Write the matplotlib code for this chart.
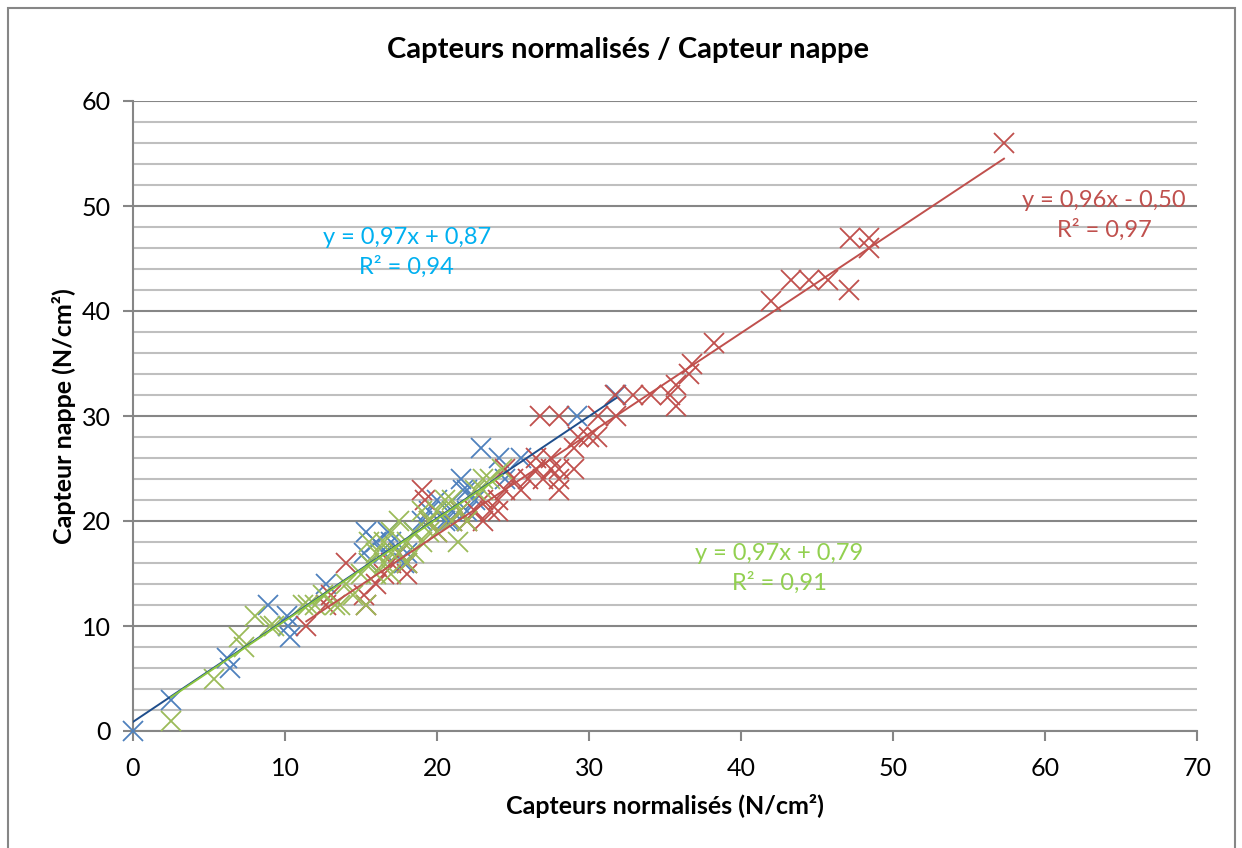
import numpy as np
import matplotlib
matplotlib.use("Agg")
import matplotlib.pyplot as plt
from matplotlib.patches import Rectangle

plt.rcParams['font.family'] = ['Lato', 'DejaVu Sans']

# ---- data ----
blue_x = [0.0, 2.5, 6.2, 6.4, 8.9, 10.1, 10.2, 10.3, 12.7, 15.3, 15.2, 15.5,
          16.0, 16.5, 16.8, 17.0, 17.5, 17.8, 18.0, 18.5, 19.0, 19.5, 20.0,
          20.5, 20.8, 21.0, 21.6, 21.7, 22.0, 22.0, 22.5, 22.9, 24.1, 24.5,
          25.5, 29.2, 31.8]
blue_y = [0, 3, 7, 6, 12, 11, 10, 9, 14, 19, 17, 16,
          18, 17, 19, 18, 17, 16, 17, 19, 20, 21, 22,
          20, 20, 21, 24, 23, 23, 21, 22, 27, 26, 24,
          26, 30, 32]

red_x = [11.4, 12.7, 13.0, 14.0, 15.2, 15.3, 16.0, 16.5, 17.0, 17.5, 18.0, 18.0,
         19.0, 19.2, 19.5, 20.0, 21.0, 21.5, 22.0, 22.5, 23.0, 23.0, 23.5, 24.0,
         24.0, 24.5, 24.5, 25.0, 25.5, 26.0, 26.5, 26.5, 27.0, 27.5, 27.5, 28.0,
         28.0, 28.0, 29.0, 29.0, 29.3, 30.0, 30.5, 26.8, 28.0, 30.6, 31.8, 31.7,
         32.9, 34.1, 35.3, 35.7, 35.7, 36.6, 36.8, 38.2, 42.0, 43.3, 44.5, 45.7,
         47.1, 47.2, 48.4, 48.4, 57.3]
red_y = [10, 12, 13, 16, 13, 12, 14, 15, 16, 17, 15, 16,
         23, 22, 20, 19, 20, 21, 20, 21, 22, 20, 21, 22,
         21, 23, 25, 24, 23, 24, 25, 26, 24, 25, 26, 23,
         24, 25, 25, 27, 28, 28, 28, 30, 30, 30, 30, 32,
         32, 32, 32, 33, 31, 34, 35, 37, 41, 43, 43, 43,
         42, 47, 47, 46, 56]

green_x = [2.5, 5.3, 7.0, 7.3, 8.0, 9.0, 9.3, 11.2, 11.5, 12.0, 12.5, 13.3,
           13.6, 14.0, 14.5, 15.0, 15.3, 15.5, 15.5, 16.0, 16.0, 16.5, 16.5,
           17.0, 17.0, 17.0, 17.5, 17.5, 18.0, 18.0, 18.5, 18.5, 19.0, 19.0,
           19.5, 19.5, 20.0, 20.0, 20.5, 21.0, 21.0, 21.4, 21.5, 22.0, 22.5,
           23.0, 23.0, 23.5, 24.3]
green_y = [1, 5, 9, 8, 11, 10, 10, 12, 12, 12, 13, 12,
           12, 14, 13, 15, 12, 16, 18, 17, 15, 16, 18,
           19, 15, 17, 17, 20, 18, 16, 19, 17, 18, 21,
           20, 19, 19, 21, 22, 20, 22, 18, 21, 20, 23,
           24, 23, 24, 25]

# trend line coefficients (slope, intercept) as printed on the chart
fit_slopes = [0.97, 0.96, 0.97]
fit_intercepts = [0.87, -0.50, 0.79]
fit_labels = ["y = 0,97x + 0,87\nR² = 0,94",
              "y = 0,96x - 0,50\nR² = 0,97",
              "y = 0,97x + 0,79\nR² = 0,91"]

marker_colors = ['#4F81BD', '#C0504D', '#9BBB59']
line_colors = ['#1F4E8C', '#C0504D', '#8CC63F']
text_colors = ['#00B0F0', '#C0504D', '#92D050']
label_pos = [(18.0, 45.6), (63.9, 49.1), (42.5, 15.5)]

# ---- figure ----
fig = plt.figure(figsize=(12.42, 8.48), dpi=100)
ax = fig.add_axes([133/1242, 1-731/848, 1064/1242, 630/848])

series = [(blue_x, blue_y), (red_x, red_y), (green_x, green_y)]
for (xs, ys), mc in zip(series, marker_colors):
    ax.plot(xs, ys, linestyle='none', marker='x', markersize=14,
            markeredgewidth=1.3, color=mc, zorder=3, clip_on=False)

for (xs, ys), a, b, lc in zip(series, fit_slopes, fit_intercepts, line_colors):
    xx = np.array([min(xs), max(xs)])
    ax.plot(xx, a*xx + b, color=lc, linewidth=1.4, zorder=4)

for txt, (tx, ty), tc in zip(fit_labels, label_pos, text_colors):
    ax.text(tx, ty, txt, color=tc, fontsize=17, ha='center', va='center',
            linespacing=1.45, zorder=5)

ax.set_xlim(0, 70)
ax.set_ylim(0, 60)
ax.set_xticks(np.arange(0, 71, 10))
ax.set_yticks(np.arange(0, 61, 10))
ax.set_yticks(np.arange(0, 61, 2), minor=True)
ax.tick_params(axis='y', which='minor', length=0)
ax.tick_params(axis='both', which='major', labelsize=18, length=7,
               width=1.5, color='#868686')
ax.tick_params(axis='y', which='major', pad=9)
ax.tick_params(axis='x', which='major', pad=12)
ax.tick_params(axis='x', which='minor', length=0)

ax.grid(True, axis='y', which='minor', color='#BFBFBF', linewidth=1.5, zorder=0)
ax.grid(True, axis='y', which='major', color='#868686', linewidth=1.5, zorder=1)
ax.set_axisbelow(True)

for s in ['top', 'right']:
    ax.spines[s].set_visible(False)
for s in ['left', 'bottom']:
    ax.spines[s].set_color('#868686')
    ax.spines[s].set_linewidth(1.5)

ax.set_xlabel("Capteurs normalisés (N/cm²)", fontsize=18, fontweight='bold', labelpad=10)
ax.set_ylabel("Capteur nappe (N/cm²)", fontsize=18, fontweight='bold', labelpad=4)
fig.text(628/1242, 1-50/848, "Capteurs normalisés / Capteur nappe",
         fontsize=21, fontweight='bold', ha='center', va='center')

# outer chart frame
fig.patches.append(Rectangle((8/1242, -0.01), 1227/1242, 1-8/848+0.01,
                             transform=fig.transFigure, fill=False,
                             edgecolor='#868686', linewidth=1.5))

fig.savefig("out.png", dpi=100)
